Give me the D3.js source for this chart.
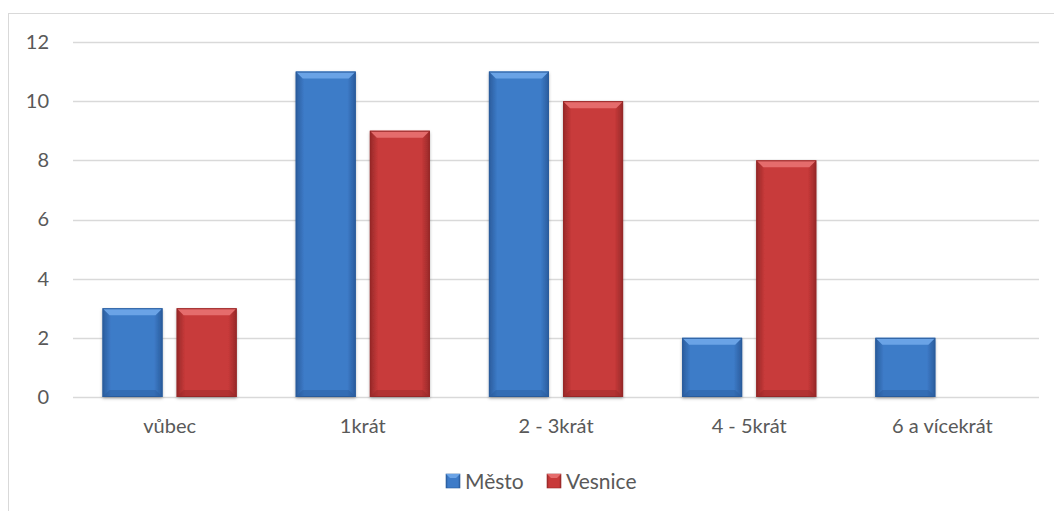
<!DOCTYPE html>
<html>
<head>
<meta charset="utf-8">
<script src="https://cdn.jsdelivr.net/npm/d3@7"></script>
<style>
  body { margin: 0; background: #fff; }
  text { font-family: Lato, "Open Sans", sans-serif; fill: #595959; }
</style>
</head>
<body>
<div id="chart"></div>
<script>
// Data
const categories = ["vůbec", "1krát", "2 - 3krát", "4 - 5krát", "6 a vícekrát"];
const seriesNames = ["Město", "Vesnice"];
const mesto = [3, 11, 11, 2, 2];
const vesnice = [3, 9, 10, 8, 0];
const yTicks = [0, 2, 4, 6, 8, 10, 12];

const W = 1054, H = 511;
const margin = {top: 42, left: 73, right: 15, bottom: 114};
const innerW = W - margin.left - margin.right;
const innerH = H - margin.top - margin.bottom;

const svg = d3.select("#chart").append("svg")
    .attr("width", W)
    .attr("height", H);

// chart frame (right/bottom run off the picture)
svg.append("rect")
    .attr("x", 8.5).attr("y", 13.5)
    .attr("width", W + 10).attr("height", H + 10)
    .attr("fill", "none")
    .attr("stroke", "#d9d9d9");

const defs = svg.append("defs");
const palette = {
    "Město":   {mid: "#3d7bc8", light: "#6aa3e6", dark: "#2a5c9c"},
    "Vesnice": {mid: "#c83a3a", light: "#e56c6c", dark: "#962828"}
};
seriesNames.forEach((s, i) => {
    const p = palette[s];
    const g = defs.append("linearGradient").attr("id", "grad" + i)
        .attr("x1", 0).attr("x2", 1).attr("y1", 0).attr("y2", 0);
    g.append("stop").attr("offset", "0%").attr("stop-color", p.dark);
    g.append("stop").attr("offset", "14%").attr("stop-color", p.mid);
    g.append("stop").attr("offset", "86%").attr("stop-color", p.mid);
    g.append("stop").attr("offset", "100%").attr("stop-color", p.dark);
});
const shadow = defs.append("filter").attr("id", "shadow")
    .attr("x", "-20%").attr("y", "-20%").attr("width", "140%").attr("height", "140%");
shadow.append("feDropShadow").attr("dx", 0).attr("dy", 1.5).attr("stdDeviation", 1.5)
    .attr("flood-color", "#000").attr("flood-opacity", 0.3);

const g = svg.append("g").attr("transform", `translate(${margin.left},${margin.top})`);

// Scales
const x = d3.scaleBand().domain(categories).range([0, innerW]).paddingInner(0).paddingOuter(0);
const x1 = d3.scaleBand().domain(seriesNames).range([29.5, x.bandwidth() - 29.5]).paddingInner(0.19);
const y = d3.scaleLinear().domain([0, 12]).range([innerH, 0]);

// Grid lines
g.append("g")
    .selectAll("line")
    .data(yTicks)
    .join("line")
    .attr("x1", 0).attr("x2", innerW)
    .attr("y1", d => Math.round(y(d)) + 0.5).attr("y2", d => Math.round(y(d)) + 0.5)
    .attr("stroke", "#d9d9d9")
    .attr("stroke-width", 1.5);

// Y axis labels
const yAxis = g.append("g")
    .call(d3.axisLeft(y).tickValues(yTicks).tickSize(0).tickPadding(24));
yAxis.select(".domain").remove();
yAxis.selectAll("text").attr("font-size", 20).attr("fill", "#595959")
    .style("font-family", "Lato, 'Open Sans', sans-serif");

// X axis labels
const xAxis = g.append("g")
    .attr("transform", `translate(0,${innerH})`)
    .call(d3.axisBottom(x).tickSize(0).tickPadding(22));
xAxis.select(".domain").remove();
xAxis.selectAll("text").attr("font-size", 20).attr("fill", "#595959")
    .style("font-family", "Lato, 'Open Sans', sans-serif");

// Bars
const rows = categories.map((c, i) => ({cat: c, values: [mesto[i], vesnice[i]]}));
const groups = g.selectAll(".grp").data(rows).join("g")
    .attr("class", "grp")
    .attr("transform", d => `translate(${x(d.cat)},0)`);

const bev = 7;
groups.each(function(d) {
    const grp = d3.select(this);
    d.values.forEach((v, i) => {
        if (v <= 0) return;
        const s = seriesNames[i];
        const p = palette[s];
        const bx = x1(s), bw = x1.bandwidth();
        const by = y(v), bh = y(0) - y(v);
        const bar = grp.append("g");
        bar.append("rect")
            .attr("x", bx).attr("y", by).attr("width", bw).attr("height", bh)
            .attr("fill", `url(#grad${i})`)
            .attr("filter", "url(#shadow)");
        // top bevel
        bar.append("path")
            .attr("d", `M${bx},${by} L${bx + bw},${by} L${bx + bw - bev},${by + bev} L${bx + bev},${by + bev} Z`)
            .attr("fill", p.light);
        // bottom bevel
        bar.append("path")
            .attr("d", `M${bx},${by + bh} L${bx + bw},${by + bh} L${bx + bw - bev},${by + bh - bev} L${bx + bev},${by + bh - bev} Z`)
            .attr("fill", p.dark).attr("opacity", 0.45);
        bar.append("rect")
            .attr("x", bx + 0.5).attr("y", by + 0.5).attr("width", bw - 1).attr("height", bh - 1)
            .attr("fill", "none").attr("stroke", p.dark).attr("stroke-width", 1);
    });
});

// Legend
const legend = svg.append("g").attr("transform", "translate(446,474)");
const legendX = [0, 101];
seriesNames.forEach((s, i) => {
    const p = palette[s];
    const it = legend.append("g").attr("transform", `translate(${legendX[i]},0)`);
    it.append("rect").attr("x", 0).attr("y", 0).attr("width", 14).attr("height", 14)
        .attr("fill", `url(#grad${i})`).attr("stroke", p.dark).attr("stroke-width", 0.6);
    it.append("path").attr("d", "M0,0 L14,0 L10,4 L4,4 Z").attr("fill", p.light);
    it.append("text").attr("x", 19).attr("y", 14.5)
        .attr("font-size", 21)
        .text(s);
});
</script>
</body>
</html>
